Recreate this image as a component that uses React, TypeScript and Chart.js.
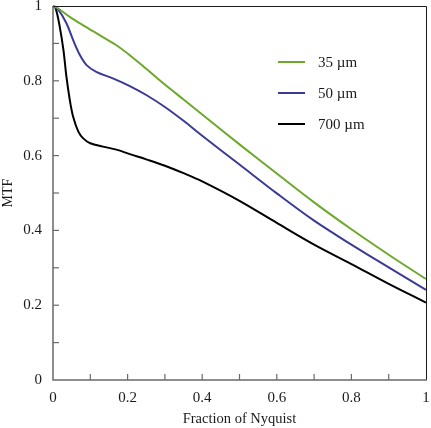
import React, { useEffect, useRef } from 'react';
import { Chart, registerables } from 'chart.js';

Chart.register(...registerables);

// ---- data ----
const seriesLabels = ['35 µm', '50 µm', '700 µm'];
const seriesColors = ['#6ea82c', '#3b3b96', '#000000'];

const x35 = [0, 0.01, 0.045, 0.08, 0.125, 0.17, 0.205, 0.25, 0.3, 0.35, 0.4, 0.5, 0.6, 0.7, 0.8, 0.9, 1.0];
const mtf35 = [1, 0.996, 0.971, 0.949, 0.922, 0.895, 0.869, 0.832, 0.79, 0.75, 0.71, 0.63, 0.552, 0.475, 0.403, 0.335, 0.27];

const x50 = [0, 0.014, 0.036, 0.054, 0.072, 0.09, 0.116, 0.162, 0.206, 0.25, 0.3, 0.35, 0.4, 0.5, 0.6, 0.7, 0.8, 0.9, 1.0];
const mtf50 = [1, 0.99, 0.954, 0.909, 0.869, 0.842, 0.824, 0.806, 0.786, 0.762, 0.73, 0.693, 0.653, 0.576, 0.499, 0.426, 0.362, 0.301, 0.241];

const x700 = [0, 0.007, 0.018, 0.028, 0.036, 0.045, 0.054, 0.068, 0.081, 0.1, 0.134, 0.17, 0.206, 0.25, 0.3, 0.35, 0.4, 0.5, 0.6, 0.7, 0.8, 0.9, 1.0];
const mtf700 = [1, 0.994, 0.945, 0.882, 0.811, 0.749, 0.704, 0.664, 0.646, 0.633, 0.624, 0.616, 0.604, 0.59, 0.573, 0.553, 0.531, 0.479, 0.42, 0.362, 0.31, 0.257, 0.207];

const xTitle = 'Fraction of Nyquist';
const yTitle = 'MTF';

const FONT = '"Liberation Serif", "Times New Roman", serif';

const tickLabel = (v: number) => {
  const t = Math.round(v * 10);
  return t % 2 === 0 ? String(t / 10) : '';
};

const decorPlugin = {
  id: 'decor',
  afterDatasetsDraw(chart: any) {
    const { ctx, chartArea, scales } = chart;
    const { left, right, top, bottom } = chartArea;
    const xs = scales.x;
    const ys = scales.y;
    ctx.save();
    // top & right frame
    ctx.strokeStyle = '#1a1a1a';
    ctx.lineWidth = 1;
    ctx.beginPath();
    ctx.moveTo(left, top + 0.5);
    ctx.lineTo(right + 0.5, top + 0.5);
    ctx.lineTo(right + 0.5, bottom);
    ctx.stroke();
    // left & bottom axes
    ctx.strokeStyle = '#6a6a6a';
    ctx.lineWidth = 1.5;
    ctx.beginPath();
    ctx.moveTo(left, top);
    ctx.lineTo(left, bottom);
    ctx.lineTo(right + 1, bottom);
    ctx.stroke();
    // inward ticks
    ctx.lineWidth = 1.2;
    xs.ticks.forEach((t: any) => {
      const px = xs.getPixelForValue(t.value);
      if (px - left < 2 || right - px < 2) return;
      ctx.beginPath();
      ctx.moveTo(px, bottom);
      ctx.lineTo(px, bottom - 6);
      ctx.stroke();
    });
    ys.ticks.forEach((t: any) => {
      const py = ys.getPixelForValue(t.value);
      if (py - top < 2 || bottom - py < 2) return;
      ctx.beginPath();
      ctx.moveTo(left, py);
      ctx.lineTo(left + 6, py);
      ctx.stroke();
    });
    // legend
    ctx.font = `15px ${FONT}`;
    ctx.textBaseline = 'middle';
    ctx.textAlign = 'left';
    chart.data.datasets.forEach((ds: any, i: number) => {
      const ly = 62 + i * 31;
      ctx.strokeStyle = ds.borderColor;
      ctx.lineWidth = 2;
      ctx.beginPath();
      ctx.moveTo(278, ly);
      ctx.lineTo(305, ly);
      ctx.stroke();
      ctx.fillStyle = '#1a1a1a';
      ctx.fillText(ds.label, 318, ly + 1);
    });
    ctx.restore();
  },
};

export default function App() {
  const ref = useRef<HTMLCanvasElement | null>(null);

  useEffect(() => {
    if (!ref.current) return;
    const mk = (xa: number[], ya: number[]) => xa.map((x, i) => ({ x, y: ya[i] }));
    const chart = new Chart(ref.current, {
      type: 'line',
      data: {
        datasets: [
          { label: seriesLabels[0], data: mk(x35, mtf35), borderColor: seriesColors[0] },
          { label: seriesLabels[1], data: mk(x50, mtf50), borderColor: seriesColors[1] },
          { label: seriesLabels[2], data: mk(x700, mtf700), borderColor: seriesColors[2] },
        ].map((d) => ({
          ...d,
          borderWidth: 2,
          pointRadius: 0,
          fill: false,
          tension: 0.35,
          clip: 4,
        })),
      },
      options: {
        animation: false,
        responsive: false,
        devicePixelRatio: 1,
        layout: { padding: { top: 6, right: 5, left: 0, bottom: 0 } },
        plugins: { legend: { display: false }, tooltip: { enabled: false } },
        scales: {
          x: {
            type: 'linear',
            min: 0,
            max: 1,
            grid: { display: false, drawTicks: false },
            border: { display: false },
            ticks: {
              stepSize: 0.1,
              autoSkip: false,
              maxRotation: 0,
              padding: 9,
              color: '#1a1a1a',
              font: { family: FONT, size: 15 },
              callback: (v: any) => tickLabel(Number(v)),
            },
            title: {
              display: true,
              text: xTitle,
              color: '#1a1a1a',
              font: { family: FONT, size: 14.5 },
              padding: { top: 0, bottom: 0 },
            },
            afterFit: (s: any) => {
              s.height = 48;
              s.paddingLeft = 0;
              s.paddingRight = 0;
            },
          },
          y: {
            type: 'linear',
            min: 0,
            max: 1,
            grid: { display: false, drawTicks: false },
            border: { display: false },
            ticks: {
              stepSize: 0.1,
              autoSkip: false,
              padding: 11,
              color: '#1a1a1a',
              font: { family: FONT, size: 15 },
              callback: (v: any) => tickLabel(Number(v)),
            },
            title: {
              display: true,
              text: yTitle,
              color: '#1a1a1a',
              font: { family: FONT, size: 14 },
              padding: { top: 0, bottom: 0 },
            },
            afterFit: (s: any) => {
              s.width = 53;
              s.paddingTop = 0;
              s.paddingBottom = 0;
            },
          },
        },
      },
      plugins: [decorPlugin],
    });
    return () => chart.destroy();
  }, []);

  return (
    <div style={{ position: 'fixed', left: 0, top: 0, width: 431, height: 428, background: '#fff' }}>
      <canvas ref={ref} width={431} height={428} style={{ display: 'block' }} />
    </div>
  );
}
